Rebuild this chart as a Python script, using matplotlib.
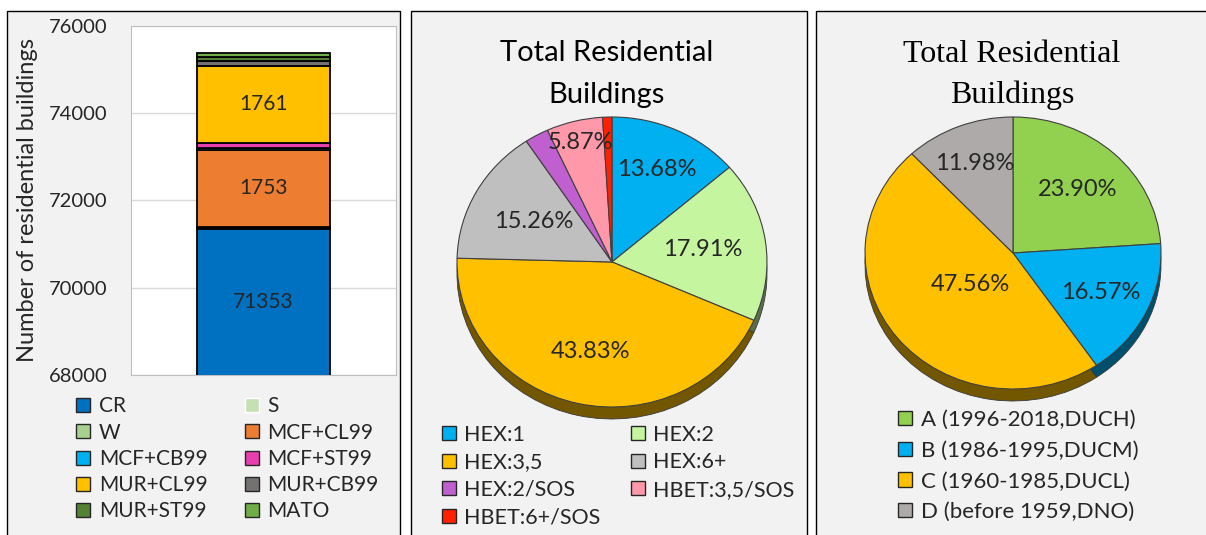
import numpy as np
import matplotlib
matplotlib.use('Agg')
import matplotlib.pyplot as plt
from matplotlib.patches import Rectangle, Patch
from matplotlib.colors import to_rgb

W, H = 1206, 535

# stacked bar: building typologies
bar_labels = ['CR', 'S', 'W', 'MCF+CL99', 'MCF+CB99', 'MCF+ST99',
              'MUR+CL99', 'MUR+CB99', 'MUR+ST99', 'MATO']
bar_values = [71353, 20, 30, 1753, 45, 120, 1761, 115, 100, 90]
bar_colors = ['#0070C0', '#C5E0B4', '#A9D18E', '#ED7D31', '#00B0F0', '#E83FAF',
              '#FFC000', '#767171', '#548235', '#70AD47']
bar_shown = [True, False, False, True, False, False, True, False, False, False]

# pie 1: height classes
hex_labels = ['HEX:1', 'HEX:2', 'HEX:3,5', 'HEX:6+', 'HEX:2/SOS',
              'HBET:3,5/SOS', 'HBET:6+/SOS']
hex_shares = [13.68, 17.91, 43.83, 15.26, 2.48, 5.87, 0.97]
hex_colors = ['#00B0F0', '#C6F5A0', '#FFC000', '#BFBFBF', '#C060D0',
              '#FF99AA', '#FF2000']
hex_shown = [True, True, True, True, False, True, False]
hex_pct_r = [0.70, 0.59, 0.63, 0.58, 0.0, 0.85, 0.0]

# pie 2: construction age
age_labels = ['A (1996-2018,DUCH)', 'B (1986-1995,DUCM)',
              'C (1960-1985,DUCL)', 'D (before 1959,DNO)']
age_shares = [23.90, 16.57, 47.56, 11.98]
age_colors = ['#92D050', '#00B0F0', '#FFC000', '#AEAAAA']
age_pct_r = [0.64, 0.66, 0.37, 0.71]

SANS = ['Lato', 'DejaVu Sans']
SERIF = ['Liberation Serif', 'DejaVu Serif']
plt.rcParams['font.family'] = SANS
TXT = '#262626'


def fx(x):
    return x / W


def fy(y):
    return 1 - y / H


def box(x0, y0, x1, y1):
    return [fx(x0), fy(y1), fx(x1) - fx(x0), fy(y0) - fy(y1)]


fig = plt.figure(figsize=(W / 100, H / 100), dpi=100)
fig.patch.set_facecolor('white')

# panel frames
for x0, x1 in [(7, 400), (411, 807), (816, 1215)]:
    fig.patches.append(Rectangle((fx(x0), fy(560)), fx(x1) - fx(x0), fy(11) - fy(560),
                                 transform=fig.transFigure, facecolor='#F2F2F2',
                                 edgecolor='black', linewidth=1.0, zorder=-5))

# ---- stacked bar ----
ax = fig.add_axes(box(131, 26, 396, 375))
ax.set_facecolor('white')
bottom = 0
handles = []
for lab, val, col, shown in zip(bar_labels, bar_values, bar_colors, bar_shown):
    bc = ax.bar(0, val, width=1.0, bottom=bottom, color=col, edgecolor='black',
                linewidth=1.3, zorder=3)
    if shown:
        ax.bar_label(bc, labels=[str(val)], label_type='center', fontsize=15, color=TXT)
    bottom += val
    handles.append(Patch(facecolor=col, edgecolor='white' if lab == 'S' else '#262626',
                         linewidth=1.0, label=lab))
ax.set_xlim(-1, 1)
ax.set_ylim(68000, 76000)
ax.set_yticks(np.arange(68000, 76001, 2000))
ax.set_xticks([])
ax.yaxis.grid(True, color='#D9D9D9', linewidth=1.0, zorder=0)
ax.tick_params(axis='y', length=0, pad=17, labelsize=14.5, labelcolor=TXT)
for s in ax.spines.values():
    s.set_color('#BFBFBF')
ax.set_ylabel('Number of residential buildings', fontsize=17, color=TXT, labelpad=8)

order = [0, 2, 4, 6, 8, 1, 3, 5, 7, 9]
fig.legend([handles[i] for i in order], [bar_labels[i] for i in order],
           loc='upper left', bbox_to_anchor=(fx(66), fy(386)), ncol=2,
           frameon=False, fontsize=15, handlelength=0.67, handleheight=0.67,
           handletextpad=0.4, labelspacing=0.3, columnspacing=1.8,
           borderpad=0, labelcolor=TXT)


def draw_pie(rect, shares, colors, pct_r, shown, depth):
    pax = fig.add_axes(rect)
    dark = [tuple(c * 0.45 for c in to_rgb(col)) for col in colors]
    pax.pie(shares, colors=dark, startangle=90, counterclock=False,
            center=(0, -depth), wedgeprops=dict(edgecolor='#3A3A3A', linewidth=0.6))
    wedges, _ = pax.pie(shares, colors=colors, startangle=90, counterclock=False,
                        wedgeprops=dict(edgecolor='#404040', linewidth=0.8))
    for w, v, r, sh in zip(wedges, shares, pct_r, shown):
        if not sh:
            continue
        th = np.deg2rad((w.theta1 + w.theta2) / 2)
        pax.text(r * np.cos(th), r * np.sin(th), f'{v:.2f}%', ha='center',
                 va='center', fontsize=17, color=TXT)
    pax.set_aspect('auto')
    pax.set_xlim(-1, 1)
    pax.set_ylim(-1 - depth, 1)
    pax.axis('off')
    return pax


# ---- pie 1 ----
d1 = 12 / 145
draw_pie(box(612 - 155, 262 - 145, 612 + 155, 262 + 145 + 12),
         hex_shares, hex_colors, hex_pct_r, hex_shown, d1)
fig.text(fx(607), fy(74), 'Total Residential\nBuildings', ha='center', va='center',
         fontsize=21, color='black', linespacing=1.75)
hex_handles = [Patch(facecolor=c, edgecolor='#262626', linewidth=1.0) for c in hex_colors]
order = [0, 2, 4, 6, 1, 3, 5]
fig.legend([hex_handles[i] for i in order], [hex_labels[i] for i in order],
           loc='upper left', bbox_to_anchor=(fx(431), fy(414)), ncol=2,
           frameon=False, fontsize=15.5, handlelength=0.65, handleheight=0.65,
           handletextpad=0.4, labelspacing=0.35, columnspacing=1.4,
           borderpad=0, labelcolor=TXT)

# ---- pie 2 ----
d2 = 12 / 136
draw_pie(box(1013 - 148, 253 - 136, 1013 + 148, 253 + 136 + 12),
         age_shares, age_colors, age_pct_r, [True] * 4, d2)
fig.text(fx(1012), fy(75), 'Total Residential\nBuildings', ha='center', va='center',
         fontsize=23, color='black', family=SERIF, linespacing=1.5)
age_handles = [Patch(facecolor=c, edgecolor='#262626', linewidth=1.0) for c in age_colors]
fig.legend(age_handles, age_labels, loc='upper left', bbox_to_anchor=(fx(887), fy(399)),
           ncol=1, frameon=False, fontsize=16, handlelength=0.62, handleheight=0.62,
           handletextpad=0.4, labelspacing=0.48, borderpad=0, labelcolor=TXT)

fig.savefig('out.png', dpi=100, facecolor='white')
